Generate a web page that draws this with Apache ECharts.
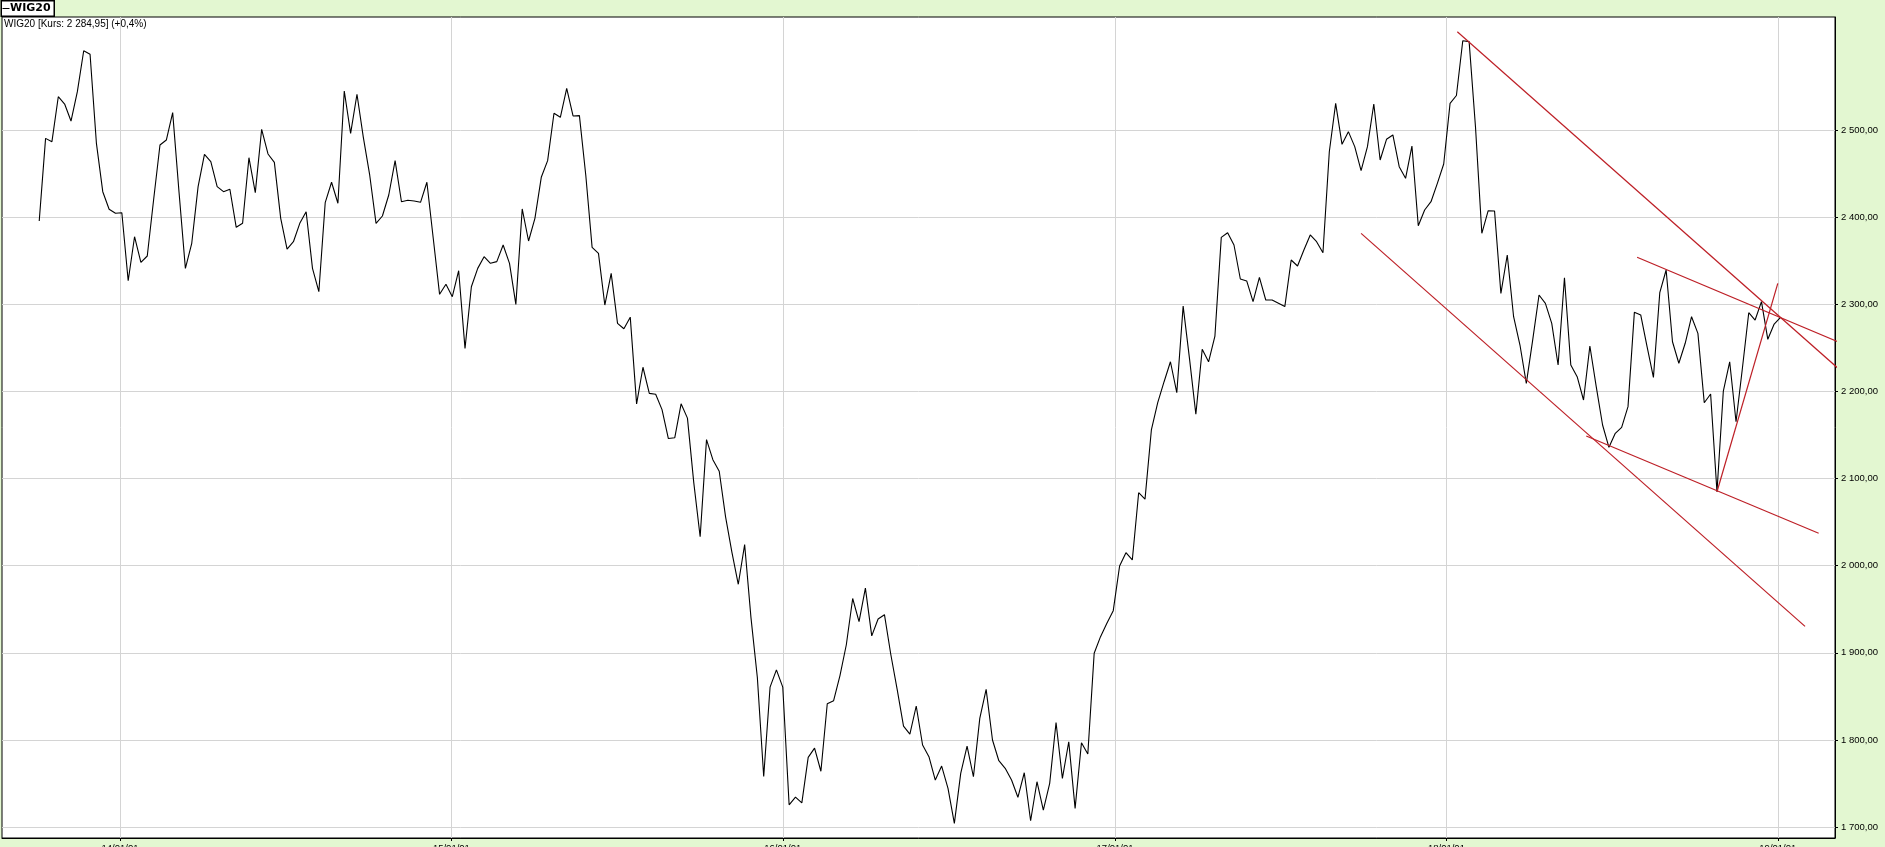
<!DOCTYPE html>
<html>
<head>
<meta charset="utf-8">
<script src="https://cdn.jsdelivr.net/npm/echarts@6/dist/echarts.min.js"></script>
<style>
html,body{margin:0;padding:0;background:#e3f7d1;}
#chart{width:1885px;height:847px;}
</style>
</head>
<body>
<div id="chart"></div>
<script>
// ---------- DATA ----------
const seriesName = 'WIG20';
const infoText = 'WIG20 [Kurs: 2 284,95] (+0,4%)';
// weekly closes (Fridays), first week 2013-10-04
const firstWeek = [2013, 10, 4];
const wig2013 = [2395.6, 2490.4, 2486.6, 2538.2, 2529.8, 2510.3, 2544, 2591, 2586.9, 2484.7, 2429.2, 2409, 2404.4];
const wig2014 = [2405.1, 2327, 2377.5, 2348.1, 2355.4, 2420, 2482.8, 2488.5, 2519.9, 2428.5,
  2341.2, 2370, 2435, 2472, 2463.6, 2435, 2429.2, 2432, 2388.3, 2392.9,
  2468.2, 2428.1, 2500.8, 2472.5, 2462.9, 2398.6, 2363.4, 2371.8, 2392.9, 2406.2,
  2341.2, 2314.4, 2416.6, 2440, 2415.9, 2544.8, 2496.2, 2541, 2491.6, 2448.4,
  2392.9, 2401.3, 2425.4, 2464.8, 2417.7, 2419.3, 2418.5, 2417, 2440, 2375.7,
  2311.4, 2322.9];
const wig2015 = [2308.7, 2338.5, 2249.4, 2320.1, 2341.2, 2354.6, 2347, 2348.9, 2368, 2347,
  2299.9, 2409.4, 2372.6, 2398.6, 2445.7, 2464.8, 2519.2, 2514.6, 2547.9, 2516.1,
  2516.5, 2448.4, 2365.3, 2358.4, 2299.1, 2335.5, 2278.1, 2271.9, 2285.2, 2185.7,
  2227.7, 2197.7, 2196.8, 2179.1, 2145.9, 2146.7, 2185.7, 2169.3, 2095, 2033.1,
  2144.6, 2121.6, 2108.3, 2056, 2015.3, 1978.6, 2024.2, 1940.1, 1871.6, 1757.9,
  1860.5, 1880.4];
const wig2016 = [1860.5, 1725.5, 1734.4, 1727.8, 1780, 1790.6, 1764, 1841.5, 1845, 1873.8,
  1909.2, 1962.3, 1935.7, 1974.2, 1919.4, 1938.8, 1943.7, 1898, 1858, 1815.9,
  1806.7, 1838.9, 1794.1, 1780.7, 1753.9, 1770, 1744.4, 1704.2, 1761.6, 1792.9,
  1757.7, 1824.7, 1858, 1799.9, 1776.1, 1767.4, 1753.9, 1734.1, 1762.3, 1707.2,
  1752, 1719.5, 1750.1, 1819.9, 1755.8, 1797.9, 1721.4, 1796.8, 1783.8, 1899.4,
  1918.5, 1933.8, 1948.3];
const wig2017 = [1999.6, 2014.9, 2006.5, 2083.7, 2076.4, 2155.7, 2187, 2211.1, 2234, 2198.5,
  2297.9, 2237.6, 2173.8, 2248.4, 2234, 2263.5, 2376.8, 2382.1, 2368, 2329,
  2326.8, 2303, 2330.9, 2304.9, 2304.9, 2301.1, 2297.3, 2350.8, 2343.9, 2362.3,
  2379.5, 2371.8, 2359.2, 2475.1, 2530.6, 2483.6, 2498.1, 2480.9, 2453.4, 2480.9,
  2529.8, 2465.6, 2489.3, 2494.3, 2457.9, 2444.6, 2481.6, 2390.2, 2408.2, 2417.7,
  2438.8, 2461];
const wig2018 = [2530.6, 2539.6, 2602.5, 2601.4, 2503.8, 2381.4, 2407.4, 2407, 2312.5, 2356.5,
  2285.7, 2253.2, 2209.2, 2258.9, 2310.6, 2301.1, 2278.1, 2230.3, 2330.5, 2230.3,
  2216.9, 2190.1, 2252.1, 2205.4, 2161.4, 2135.8, 2151.9, 2158.7, 2182.5, 2290.7,
  2287.7, 2251.3, 2216.1, 2313.3, 2339.3, 2257, 2232.3, 2255.2, 2285.7, 2266.6,
  2187, 2197, 2084.9, 2200.4, 2234, 2165.2, 2226.5, 2290.3, 2281.9, 2303,
  2259.8, 2277.3];
const wig2019 = [2284.95];

const yTicks = [1700, 1800, 1900, 2000, 2100, 2200, 2300, 2400, 2500];
const xTicks = ['2014-01-01', '2015-01-01', '2016-01-01', '2017-01-01', '2018-01-01', '2019-01-01'];
const xRange = ['2013-08-24', '2019-03-05'];
const yRange = [1687.4, 2629.7];

// trend lines drawn on the chart: [start, end] as [date, value]
const trendLines = [
  [['2018-01-13', 2612.8], ['2019-04-23', 2184.4]],
  [['2018-07-30', 2353.9], ['2019-04-23', 2236.8]],
  [['2017-09-29', 2381.4], ['2019-01-31', 1930.3]],
  [['2018-06-04', 2148.8], ['2019-02-15', 2037.1]],
  [['2018-10-26', 2084.8], ['2019-01-01', 2324.0]]
];

// ---------- BUILD ----------
function toTime(s) {
  const p = s.split('-').map(Number);
  return new Date(p[0], p[1] - 1, p[2]).getTime();
}
const closes = [].concat(wig2013, wig2014, wig2015, wig2016, wig2017, wig2018, wig2019);
const lineData = closes.map((v, i) =>
  [new Date(firstWeek[0], firstWeek[1] - 1, firstWeek[2] + 7 * i).getTime(), v]);
const xTickVals = xTicks.map(toTime);

function fmtY(v) {
  const s = Number(v).toFixed(2).split('.');
  const intPart = s[0].replace(/\B(?=(\d{3})+(?!\d))/g, ' ');
  return intPart + ',' + s[1];
}
function pad(n) { return (n < 10 ? '0' : '') + n; }
function fmtX(v) {
  const d = new Date(v);
  return String(d.getFullYear()).slice(2) + '/' + pad(d.getMonth() + 1) + '/' + pad(d.getDate());
}

const trendSeries = trendLines.map((ln, k) => ({
  type: 'line',
  name: 'trend' + k,
  data: ln.map(p => [toTime(p[0]), p[1]]),
  showSymbol: false,
  symbol: 'none',
  clip: false,
  silent: true,
  lineStyle: { color: '#bd1f26', width: 1.2 },
  z: 5
}));

const chart = echarts.init(document.getElementById('chart'), null, { renderer: 'canvas' });
chart.setOption({
  animation: false,
  backgroundColor: '#e3f7d1',
  title: {
    text: infoText,
    left: 4,
    top: 19,
    padding: 0,
    textStyle: { fontFamily: 'Liberation Sans', fontSize: 10, fontWeight: 'normal', color: '#000' }
  },
  graphic: [{
    type: 'group',
    left: 0,
    top: 0,
    children: [
      { type: 'rect', shape: { x: 0.75, y: 0.75, width: 53, height: 15.5 },
        style: { fill: '#fff', stroke: '#000', lineWidth: 1.5 } },
      { type: 'line', shape: { x1: 2, y1: 8.5, x2: 9, y2: 8.5 },
        style: { stroke: '#000', lineWidth: 1 } },
      { type: 'text', x: 9.5, y: 8.5,
        style: { text: seriesName, fill: '#000', font: 'bold 11px "DejaVu Sans"',
                 textVerticalAlign: 'middle', verticalAlign: 'middle' } }
    ]
  }],
  grid: {
    left: 2, right: 50, top: 17, bottom: 9,
    show: true,
    backgroundColor: '#fff',
    borderColor: '#000',
    borderWidth: 1,
    outerBoundsMode: 'none',
    containLabel: false
  },
  xAxis: {
    type: 'value',
    min: toTime(xRange[0]),
    max: toTime(xRange[1]),
    axisLine: { show: true, lineStyle: { color: '#000', width: 1 } },
    axisTick: { show: true, length: 3, customValues: xTickVals, lineStyle: { color: '#000' } },
    minorTick: { show: false },
    axisLabel: {
      customValues: xTickVals,
      formatter: fmtX,
      margin: 5,
      fontFamily: 'Liberation Sans',
      fontSize: 9.5,
      color: '#000'
    },
    splitLine: { show: true, lineStyle: { color: '#d4d4d4', width: 1 } }
  },
  yAxis: {
    type: 'value',
    position: 'right',
    min: yRange[0],
    max: yRange[1],
    axisLine: { show: true, lineStyle: { color: '#000', width: 1 } },
    axisTick: { show: true, length: 3, customValues: yTicks, lineStyle: { color: '#000' } },
    axisLabel: {
      customValues: yTicks,
      formatter: fmtY,
      margin: 6,
      fontFamily: 'Liberation Sans',
      fontSize: 9.5,
      color: '#000'
    },
    splitLine: { show: true, lineStyle: { color: '#d4d4d4', width: 1 } }
  },
  series: [{
    type: 'line',
    name: seriesName,
    data: lineData,
    showSymbol: false,
    symbol: 'none',
    itemStyle: { color: '#000' },
    lineStyle: { color: '#000', width: 1.1 },
    z: 3
  }].concat(trendSeries)
});
</script>
</body>
</html>
